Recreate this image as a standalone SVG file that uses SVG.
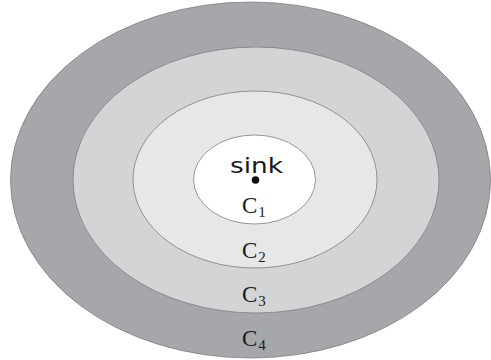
<svg xmlns="http://www.w3.org/2000/svg" width="491" height="360" viewBox="0 0 491 360">
<style>
.ring{stroke:#7d7e82;stroke-width:0.8}
.lbl{font-family:"Liberation Serif","Times New Roman",serif;fill:#1a1a1a}
.c{font-size:23px}
.s{font-size:15px}
.sink{font-family:"DejaVu Sans","Liberation Sans",sans-serif;font-size:21px;fill:#1a1a1a}
</style>
<rect width="491" height="360" fill="#ffffff"/>
<g id="C4"><ellipse class="ring" cx="250.5" cy="180" rx="240" ry="178" fill="#a6a7aa"/></g>
<g id="C3"><ellipse class="ring" cx="256" cy="180" rx="183" ry="133" fill="#d3d4d6"/></g>
<g id="C2"><ellipse class="ring" cx="255" cy="179.5" rx="122" ry="88.5" fill="#e7e7e8"/></g>
<g id="C1"><ellipse class="ring" cx="254.5" cy="179.5" rx="61" ry="44.5" fill="#ffffff"/></g>
<g id="sink">
<text class="sink" x="230" y="173" textLength="53" lengthAdjust="spacingAndGlyphs">sink</text>
<circle cx="255.5" cy="180" r="3.8" fill="#111"/>
</g>
<g id="labels">
<text class="lbl" x="242" y="213"><tspan class="c">C</tspan><tspan class="s" dx="1" dy="4">1</tspan></text>
<text class="lbl" x="242" y="258"><tspan class="c">C</tspan><tspan class="s" dx="1" dy="4">2</tspan></text>
<text class="lbl" x="242" y="302"><tspan class="c">C</tspan><tspan class="s" dx="1" dy="4">3</tspan></text>
<text class="lbl" x="242" y="346"><tspan class="c">C</tspan><tspan class="s" dx="1" dy="4">4</tspan></text>
</g>
<g id="connectors"></g>
</svg>
